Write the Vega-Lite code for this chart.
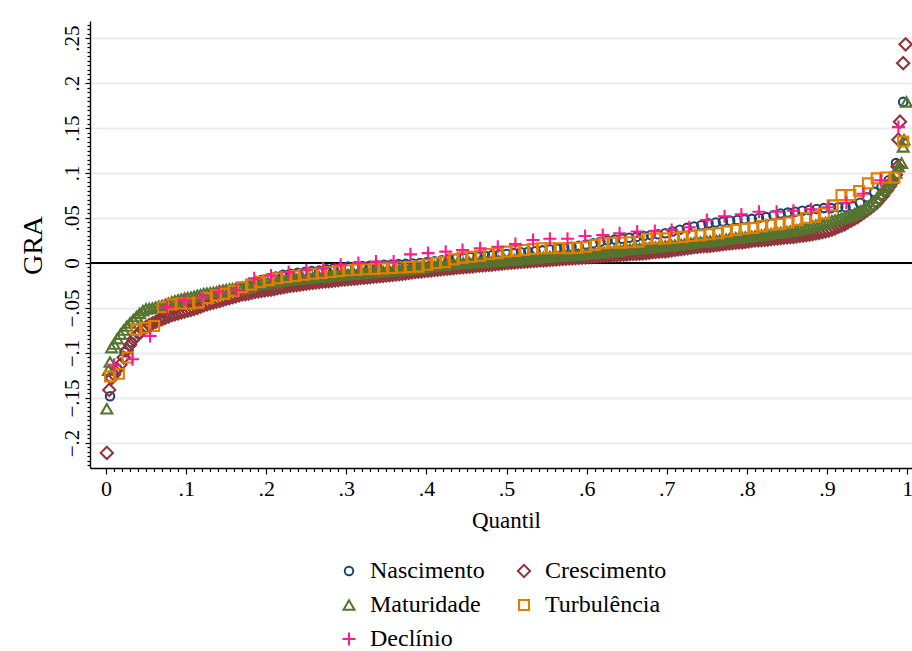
{
"$schema": "https://vega.github.io/schema/vega-lite/v6.json",
"width": 822, "height": 447,
"autosize": {"type": "none"},
"padding": {"left": 90, "top": 21, "right": 0, "bottom": 183},
"background": "white",
"config": {"view": {"stroke": null}, "font": "Liberation Serif"},
"data": {"values": [
{"s":"N","q":0.005,"v":-0.148},{"s":"N","q":0.014,"v":-0.118},{"s":"N","q":0.023,"v":-0.099},{"s":"N","q":0.032,"v":-0.088},{"s":"N","q":0.041,"v":-0.079},{"s":"N","q":0.050,"v":-0.072},{"s":"N","q":0.059,"v":-0.066},{"s":"N","q":0.068,"v":-0.061},{"s":"N","q":0.077,"v":-0.056},{"s":"N","q":0.086,"v":-0.052},{"s":"N","q":0.095,"v":-0.048},{"s":"N","q":0.104,"v":-0.045},{"s":"N","q":0.113,"v":-0.042},{"s":"N","q":0.122,"v":-0.039},{"s":"N","q":0.131,"v":-0.036},{"s":"N","q":0.140,"v":-0.034},{"s":"N","q":0.149,"v":-0.031},{"s":"N","q":0.158,"v":-0.029},{"s":"N","q":0.167,"v":-0.027},{"s":"N","q":0.176,"v":-0.025},{"s":"N","q":0.185,"v":-0.022},{"s":"N","q":0.194,"v":-0.019},{"s":"N","q":0.203,"v":-0.017},{"s":"N","q":0.212,"v":-0.015},{"s":"N","q":0.221,"v":-0.013},{"s":"N","q":0.230,"v":-0.012},{"s":"N","q":0.239,"v":-0.011},{"s":"N","q":0.248,"v":-0.010},{"s":"N","q":0.257,"v":-0.009},{"s":"N","q":0.266,"v":-0.0085},{"s":"N","q":0.275,"v":-0.007},{"s":"N","q":0.284,"v":-0.006},{"s":"N","q":0.293,"v":-0.005},{"s":"N","q":0.302,"v":-0.004},{"s":"N","q":0.311,"v":-0.0037},{"s":"N","q":0.320,"v":-0.0033},{"s":"N","q":0.329,"v":-0.003},{"s":"N","q":0.338,"v":-0.0025},{"s":"N","q":0.347,"v":-0.002},{"s":"N","q":0.356,"v":-0.0017},{"s":"N","q":0.365,"v":-0.0013},{"s":"N","q":0.374,"v":-0.001},{"s":"N","q":0.383,"v":-0.0005},{"s":"N","q":0.392,"v":0.000},{"s":"N","q":0.401,"v":0.001},{"s":"N","q":0.410,"v":0.002},{"s":"N","q":0.419,"v":0.003},{"s":"N","q":0.428,"v":0.0045},{"s":"N","q":0.437,"v":0.005},{"s":"N","q":0.446,"v":0.006},{"s":"N","q":0.455,"v":0.0067},{"s":"N","q":0.464,"v":0.0073},{"s":"N","q":0.473,"v":0.008},{"s":"N","q":0.482,"v":0.0087},{"s":"N","q":0.491,"v":0.0094},{"s":"N","q":0.500,"v":0.010},{"s":"N","q":0.509,"v":0.011},{"s":"N","q":0.518,"v":0.012},{"s":"N","q":0.527,"v":0.0125},{"s":"N","q":0.536,"v":0.013},{"s":"N","q":0.545,"v":0.014},{"s":"N","q":0.554,"v":0.015},{"s":"N","q":0.563,"v":0.016},{"s":"N","q":0.572,"v":0.017},{"s":"N","q":0.581,"v":0.018},{"s":"N","q":0.590,"v":0.019},{"s":"N","q":0.599,"v":0.0205},{"s":"N","q":0.608,"v":0.022},{"s":"N","q":0.617,"v":0.0235},{"s":"N","q":0.626,"v":0.025},{"s":"N","q":0.635,"v":0.026},{"s":"N","q":0.644,"v":0.027},{"s":"N","q":0.653,"v":0.028},{"s":"N","q":0.662,"v":0.029},{"s":"N","q":0.671,"v":0.030},{"s":"N","q":0.680,"v":0.031},{"s":"N","q":0.689,"v":0.032},{"s":"N","q":0.698,"v":0.033},{"s":"N","q":0.707,"v":0.035},{"s":"N","q":0.716,"v":0.037},{"s":"N","q":0.725,"v":0.039},{"s":"N","q":0.734,"v":0.0405},{"s":"N","q":0.743,"v":0.042},{"s":"N","q":0.752,"v":0.044},{"s":"N","q":0.761,"v":0.045},{"s":"N","q":0.770,"v":0.046},{"s":"N","q":0.779,"v":0.047},{"s":"N","q":0.788,"v":0.0477},{"s":"N","q":0.797,"v":0.0485},{"s":"N","q":0.806,"v":0.049},{"s":"N","q":0.815,"v":0.050},{"s":"N","q":0.824,"v":0.051},{"s":"N","q":0.833,"v":0.053},{"s":"N","q":0.842,"v":0.055},{"s":"N","q":0.851,"v":0.056},{"s":"N","q":0.860,"v":0.057},{"s":"N","q":0.869,"v":0.058},{"s":"N","q":0.878,"v":0.059},{"s":"N","q":0.887,"v":0.060},{"s":"N","q":0.896,"v":0.061},{"s":"N","q":0.905,"v":0.061},{"s":"N","q":0.914,"v":0.062},{"s":"N","q":0.923,"v":0.062},{"s":"N","q":0.932,"v":0.063},{"s":"N","q":0.941,"v":0.067},{"s":"N","q":0.950,"v":0.073},{"s":"N","q":0.959,"v":0.079},{"s":"N","q":0.968,"v":0.085},{"s":"N","q":0.977,"v":0.092},{"s":"N","q":0.986,"v":0.111},{"s":"N","q":0.995,"v":0.179},
{"s":"C","q":0.001,"v":-0.211},{"s":"C","q":0.004,"v":-0.141},{"s":"C","q":0.007,"v":-0.128},{"s":"C","q":0.010,"v":-0.124},{"s":"C","q":0.018,"v":-0.113},{"s":"C","q":0.026,"v":-0.097},{"s":"C","q":0.034,"v":-0.085},{"s":"C","q":0.042,"v":-0.077},{"s":"C","q":0.050,"v":-0.071},{"s":"C","q":0.058,"v":-0.067},{"s":"C","q":0.066,"v":-0.064},{"s":"C","q":0.074,"v":-0.061},{"s":"C","q":0.082,"v":-0.058},{"s":"C","q":0.090,"v":-0.056},{"s":"C","q":0.098,"v":-0.054},{"s":"C","q":0.106,"v":-0.052},{"s":"C","q":0.114,"v":-0.050},{"s":"C","q":0.122,"v":-0.047},{"s":"C","q":0.130,"v":-0.045},{"s":"C","q":0.138,"v":-0.043},{"s":"C","q":0.146,"v":-0.041},{"s":"C","q":0.154,"v":-0.039},{"s":"C","q":0.162,"v":-0.037},{"s":"C","q":0.170,"v":-0.035},{"s":"C","q":0.178,"v":-0.034},{"s":"C","q":0.186,"v":-0.032},{"s":"C","q":0.194,"v":-0.031},{"s":"C","q":0.202,"v":-0.030},{"s":"C","q":0.210,"v":-0.029},{"s":"C","q":0.218,"v":-0.0275},{"s":"C","q":0.226,"v":-0.026},{"s":"C","q":0.234,"v":-0.025},{"s":"C","q":0.242,"v":-0.024},{"s":"C","q":0.250,"v":-0.023},{"s":"C","q":0.258,"v":-0.022},{"s":"C","q":0.266,"v":-0.0212},{"s":"C","q":0.274,"v":-0.0205},{"s":"C","q":0.282,"v":-0.0198},{"s":"C","q":0.290,"v":-0.019},{"s":"C","q":0.298,"v":-0.0183},{"s":"C","q":0.306,"v":-0.0176},{"s":"C","q":0.314,"v":-0.017},{"s":"C","q":0.322,"v":-0.0163},{"s":"C","q":0.330,"v":-0.0157},{"s":"C","q":0.338,"v":-0.015},{"s":"C","q":0.346,"v":-0.0143},{"s":"C","q":0.354,"v":-0.0135},{"s":"C","q":0.362,"v":-0.0127},{"s":"C","q":0.370,"v":-0.012},{"s":"C","q":0.378,"v":-0.011},{"s":"C","q":0.386,"v":-0.010},{"s":"C","q":0.394,"v":-0.0092},{"s":"C","q":0.402,"v":-0.0085},{"s":"C","q":0.410,"v":-0.0078},{"s":"C","q":0.418,"v":-0.007},{"s":"C","q":0.426,"v":-0.0063},{"s":"C","q":0.434,"v":-0.0056},{"s":"C","q":0.442,"v":-0.005},{"s":"C","q":0.450,"v":-0.0043},{"s":"C","q":0.458,"v":-0.0037},{"s":"C","q":0.466,"v":-0.003},{"s":"C","q":0.474,"v":-0.0023},{"s":"C","q":0.482,"v":-0.0017},{"s":"C","q":0.490,"v":-0.001},{"s":"C","q":0.498,"v":-0.0003},{"s":"C","q":0.506,"v":0.0003},{"s":"C","q":0.514,"v":0.001},{"s":"C","q":0.522,"v":0.0015},{"s":"C","q":0.530,"v":0.002},{"s":"C","q":0.538,"v":0.0025},{"s":"C","q":0.546,"v":0.003},{"s":"C","q":0.554,"v":0.0035},{"s":"C","q":0.562,"v":0.004},{"s":"C","q":0.570,"v":0.0045},{"s":"C","q":0.578,"v":0.005},{"s":"C","q":0.586,"v":0.0055},{"s":"C","q":0.594,"v":0.006},{"s":"C","q":0.602,"v":0.0065},{"s":"C","q":0.610,"v":0.007},{"s":"C","q":0.618,"v":0.0075},{"s":"C","q":0.626,"v":0.008},{"s":"C","q":0.634,"v":0.0085},{"s":"C","q":0.642,"v":0.009},{"s":"C","q":0.650,"v":0.0095},{"s":"C","q":0.658,"v":0.010},{"s":"C","q":0.666,"v":0.0105},{"s":"C","q":0.674,"v":0.011},{"s":"C","q":0.682,"v":0.012},{"s":"C","q":0.690,"v":0.0125},{"s":"C","q":0.698,"v":0.013},{"s":"C","q":0.706,"v":0.014},{"s":"C","q":0.714,"v":0.015},{"s":"C","q":0.722,"v":0.016},{"s":"C","q":0.730,"v":0.017},{"s":"C","q":0.738,"v":0.018},{"s":"C","q":0.746,"v":0.0187},{"s":"C","q":0.754,"v":0.019},{"s":"C","q":0.762,"v":0.020},{"s":"C","q":0.770,"v":0.021},{"s":"C","q":0.778,"v":0.0217},{"s":"C","q":0.786,"v":0.0225},{"s":"C","q":0.794,"v":0.023},{"s":"C","q":0.802,"v":0.024},{"s":"C","q":0.810,"v":0.025},{"s":"C","q":0.818,"v":0.0255},{"s":"C","q":0.826,"v":0.026},{"s":"C","q":0.834,"v":0.027},{"s":"C","q":0.842,"v":0.0277},{"s":"C","q":0.850,"v":0.0285},{"s":"C","q":0.858,"v":0.029},{"s":"C","q":0.866,"v":0.030},{"s":"C","q":0.874,"v":0.031},{"s":"C","q":0.882,"v":0.032},{"s":"C","q":0.890,"v":0.0335},{"s":"C","q":0.898,"v":0.035},{"s":"C","q":0.906,"v":0.037},{"s":"C","q":0.914,"v":0.040},{"s":"C","q":0.922,"v":0.043},{"s":"C","q":0.930,"v":0.047},{"s":"C","q":0.938,"v":0.051},{"s":"C","q":0.946,"v":0.056},{"s":"C","q":0.954,"v":0.061},{"s":"C","q":0.962,"v":0.067},{"s":"C","q":0.970,"v":0.075},{"s":"C","q":0.978,"v":0.085},{"s":"C","q":0.982,"v":0.090},{"s":"C","q":0.986,"v":0.098},{"s":"C","q":0.988,"v":0.107},{"s":"C","q":0.989,"v":0.137},{"s":"C","q":0.991,"v":0.157},{"s":"C","q":0.995,"v":0.222},{"s":"C","q":0.998,"v":0.243},
{"s":"C","q":0.014,"v":-0.118},{"s":"C","q":0.022,"v":-0.105},{"s":"C","q":0.030,"v":-0.091},{"s":"C","q":0.038,"v":-0.081},{"s":"C","q":0.046,"v":-0.074},{"s":"C","q":0.054,"v":-0.069},{"s":"C","q":0.062,"v":-0.0655},{"s":"C","q":0.070,"v":-0.0625},{"s":"C","q":0.078,"v":-0.0595},{"s":"C","q":0.086,"v":-0.057},{"s":"C","q":0.094,"v":-0.055},{"s":"C","q":0.102,"v":-0.053},{"s":"C","q":0.110,"v":-0.051},{"s":"C","q":0.118,"v":-0.0485},{"s":"C","q":0.126,"v":-0.046},{"s":"C","q":0.134,"v":-0.044},{"s":"C","q":0.142,"v":-0.042},{"s":"C","q":0.150,"v":-0.040},{"s":"C","q":0.158,"v":-0.038},{"s":"C","q":0.166,"v":-0.036},{"s":"C","q":0.174,"v":-0.0345},{"s":"C","q":0.182,"v":-0.033},{"s":"C","q":0.190,"v":-0.0315},{"s":"C","q":0.198,"v":-0.0305},{"s":"C","q":0.206,"v":-0.0295},{"s":"C","q":0.214,"v":-0.028},{"s":"C","q":0.222,"v":-0.0268},{"s":"C","q":0.230,"v":-0.0255},{"s":"C","q":0.238,"v":-0.0245},{"s":"C","q":0.246,"v":-0.0235},{"s":"C","q":0.254,"v":-0.0225},{"s":"C","q":0.262,"v":-0.0216},{"s":"C","q":0.270,"v":-0.0208},{"s":"C","q":0.278,"v":-0.0202},{"s":"C","q":0.286,"v":-0.0194},{"s":"C","q":0.294,"v":-0.0186},{"s":"C","q":0.302,"v":-0.018},{"s":"C","q":0.310,"v":-0.0173},{"s":"C","q":0.318,"v":-0.0166},{"s":"C","q":0.326,"v":-0.016},{"s":"C","q":0.334,"v":-0.0153},{"s":"C","q":0.342,"v":-0.0146},{"s":"C","q":0.350,"v":-0.0139},{"s":"C","q":0.358,"v":-0.0131},{"s":"C","q":0.366,"v":-0.0123},{"s":"C","q":0.374,"v":-0.0115},{"s":"C","q":0.382,"v":-0.0105},{"s":"C","q":0.390,"v":-0.0096},{"s":"C","q":0.398,"v":-0.0088},{"s":"C","q":0.406,"v":-0.0082},{"s":"C","q":0.414,"v":-0.0074},{"s":"C","q":0.422,"v":-0.0066},{"s":"C","q":0.430,"v":-0.006},{"s":"C","q":0.438,"v":-0.0053},{"s":"C","q":0.446,"v":-0.0046},{"s":"C","q":0.454,"v":-0.004},{"s":"C","q":0.462,"v":-0.0033},{"s":"C","q":0.470,"v":-0.0027},{"s":"C","q":0.478,"v":-0.002},{"s":"C","q":0.486,"v":-0.0013},{"s":"C","q":0.494,"v":-0.0006},{"s":"C","q":0.502,"v":0.0000},{"s":"C","q":0.510,"v":0.0006},{"s":"C","q":0.518,"v":0.0012},{"s":"C","q":0.526,"v":0.0018},{"s":"C","q":0.534,"v":0.0022},{"s":"C","q":0.542,"v":0.0028},{"s":"C","q":0.550,"v":0.0032},{"s":"C","q":0.558,"v":0.0038},{"s":"C","q":0.566,"v":0.0042},{"s":"C","q":0.574,"v":0.0048},{"s":"C","q":0.582,"v":0.0052},{"s":"C","q":0.590,"v":0.0058},{"s":"C","q":0.598,"v":0.0062},{"s":"C","q":0.606,"v":0.0068},{"s":"C","q":0.614,"v":0.0072},{"s":"C","q":0.622,"v":0.0078},{"s":"C","q":0.630,"v":0.0082},{"s":"C","q":0.638,"v":0.0088},{"s":"C","q":0.646,"v":0.0092},{"s":"C","q":0.654,"v":0.0098},{"s":"C","q":0.662,"v":0.0102},{"s":"C","q":0.670,"v":0.0108},{"s":"C","q":0.678,"v":0.0115},{"s":"C","q":0.686,"v":0.0122},{"s":"C","q":0.694,"v":0.0128},{"s":"C","q":0.702,"v":0.0135},{"s":"C","q":0.710,"v":0.0145},{"s":"C","q":0.718,"v":0.0155},{"s":"C","q":0.726,"v":0.0165},{"s":"C","q":0.734,"v":0.0175},{"s":"C","q":0.742,"v":0.0184},{"s":"C","q":0.750,"v":0.0188},{"s":"C","q":0.758,"v":0.0195},{"s":"C","q":0.766,"v":0.0205},{"s":"C","q":0.774,"v":0.0214},{"s":"C","q":0.782,"v":0.0221},{"s":"C","q":0.790,"v":0.0228},{"s":"C","q":0.798,"v":0.0235},{"s":"C","q":0.806,"v":0.0245},{"s":"C","q":0.814,"v":0.0252},{"s":"C","q":0.822,"v":0.0258},{"s":"C","q":0.830,"v":0.0265},{"s":"C","q":0.838,"v":0.0274},{"s":"C","q":0.846,"v":0.0281},{"s":"C","q":0.854,"v":0.0288},{"s":"C","q":0.862,"v":0.0295},{"s":"C","q":0.870,"v":0.0305},{"s":"C","q":0.878,"v":0.0315},{"s":"C","q":0.886,"v":0.0328},{"s":"C","q":0.894,"v":0.0342},{"s":"C","q":0.902,"v":0.036},{"s":"C","q":0.910,"v":0.0385},{"s":"C","q":0.918,"v":0.0415},{"s":"C","q":0.926,"v":0.045},{"s":"C","q":0.934,"v":0.049},{"s":"C","q":0.942,"v":0.0535},{"s":"C","q":0.950,"v":0.0585},{"s":"C","q":0.958,"v":0.064},{"s":"C","q":0.966,"v":0.071},{"s":"C","q":0.974,"v":0.080},
{"s":"M","q":0.001,"v":-0.162},{"s":"M","q":0.003,"v":-0.119},{"s":"M","q":0.005,"v":-0.110},{"s":"M","q":0.007,"v":-0.094},{"s":"M","q":0.010,"v":-0.090},{"s":"M","q":0.018,"v":-0.079},{"s":"M","q":0.026,"v":-0.070},{"s":"M","q":0.034,"v":-0.063},{"s":"M","q":0.042,"v":-0.056},{"s":"M","q":0.050,"v":-0.051},{"s":"M","q":0.058,"v":-0.050},{"s":"M","q":0.066,"v":-0.048},{"s":"M","q":0.074,"v":-0.046},{"s":"M","q":0.082,"v":-0.043},{"s":"M","q":0.090,"v":-0.041},{"s":"M","q":0.098,"v":-0.039},{"s":"M","q":0.106,"v":-0.038},{"s":"M","q":0.114,"v":-0.036},{"s":"M","q":0.122,"v":-0.034},{"s":"M","q":0.130,"v":-0.033},{"s":"M","q":0.138,"v":-0.032},{"s":"M","q":0.146,"v":-0.030},{"s":"M","q":0.154,"v":-0.029},{"s":"M","q":0.162,"v":-0.028},{"s":"M","q":0.170,"v":-0.027},{"s":"M","q":0.178,"v":-0.026},{"s":"M","q":0.186,"v":-0.024},{"s":"M","q":0.194,"v":-0.023},{"s":"M","q":0.202,"v":-0.022},{"s":"M","q":0.210,"v":-0.021},{"s":"M","q":0.218,"v":-0.020},{"s":"M","q":0.226,"v":-0.019},{"s":"M","q":0.234,"v":-0.018},{"s":"M","q":0.242,"v":-0.0175},{"s":"M","q":0.250,"v":-0.017},{"s":"M","q":0.258,"v":-0.016},{"s":"M","q":0.266,"v":-0.0155},{"s":"M","q":0.274,"v":-0.015},{"s":"M","q":0.282,"v":-0.014},{"s":"M","q":0.290,"v":-0.0135},{"s":"M","q":0.298,"v":-0.013},{"s":"M","q":0.306,"v":-0.0125},{"s":"M","q":0.314,"v":-0.012},{"s":"M","q":0.322,"v":-0.0112},{"s":"M","q":0.330,"v":-0.0105},{"s":"M","q":0.338,"v":-0.010},{"s":"M","q":0.346,"v":-0.0095},{"s":"M","q":0.354,"v":-0.009},{"s":"M","q":0.362,"v":-0.0082},{"s":"M","q":0.370,"v":-0.0075},{"s":"M","q":0.378,"v":-0.0068},{"s":"M","q":0.386,"v":-0.006},{"s":"M","q":0.394,"v":-0.005},{"s":"M","q":0.402,"v":-0.004},{"s":"M","q":0.410,"v":-0.0033},{"s":"M","q":0.418,"v":-0.0025},{"s":"M","q":0.426,"v":-0.0018},{"s":"M","q":0.434,"v":-0.001},{"s":"M","q":0.442,"v":-0.0005},{"s":"M","q":0.450,"v":0.000},{"s":"M","q":0.458,"v":0.0005},{"s":"M","q":0.466,"v":0.001},{"s":"M","q":0.474,"v":0.0015},{"s":"M","q":0.482,"v":0.002},{"s":"M","q":0.490,"v":0.0025},{"s":"M","q":0.498,"v":0.003},{"s":"M","q":0.506,"v":0.0035},{"s":"M","q":0.514,"v":0.004},{"s":"M","q":0.522,"v":0.0047},{"s":"M","q":0.530,"v":0.0053},{"s":"M","q":0.538,"v":0.006},{"s":"M","q":0.546,"v":0.0065},{"s":"M","q":0.554,"v":0.007},{"s":"M","q":0.562,"v":0.0075},{"s":"M","q":0.570,"v":0.008},{"s":"M","q":0.578,"v":0.0085},{"s":"M","q":0.586,"v":0.009},{"s":"M","q":0.594,"v":0.0095},{"s":"M","q":0.602,"v":0.010},{"s":"M","q":0.610,"v":0.011},{"s":"M","q":0.618,"v":0.0115},{"s":"M","q":0.626,"v":0.012},{"s":"M","q":0.634,"v":0.013},{"s":"M","q":0.642,"v":0.014},{"s":"M","q":0.650,"v":0.015},{"s":"M","q":0.658,"v":0.0155},{"s":"M","q":0.666,"v":0.016},{"s":"M","q":0.674,"v":0.0167},{"s":"M","q":0.682,"v":0.0175},{"s":"M","q":0.690,"v":0.018},{"s":"M","q":0.698,"v":0.019},{"s":"M","q":0.706,"v":0.0195},{"s":"M","q":0.714,"v":0.020},{"s":"M","q":0.722,"v":0.021},{"s":"M","q":0.730,"v":0.022},{"s":"M","q":0.738,"v":0.023},{"s":"M","q":0.746,"v":0.0237},{"s":"M","q":0.754,"v":0.0245},{"s":"M","q":0.762,"v":0.025},{"s":"M","q":0.770,"v":0.026},{"s":"M","q":0.778,"v":0.027},{"s":"M","q":0.786,"v":0.028},{"s":"M","q":0.794,"v":0.0285},{"s":"M","q":0.802,"v":0.029},{"s":"M","q":0.810,"v":0.030},{"s":"M","q":0.818,"v":0.031},{"s":"M","q":0.826,"v":0.032},{"s":"M","q":0.834,"v":0.033},{"s":"M","q":0.842,"v":0.034},{"s":"M","q":0.850,"v":0.035},{"s":"M","q":0.858,"v":0.036},{"s":"M","q":0.866,"v":0.0375},{"s":"M","q":0.874,"v":0.039},{"s":"M","q":0.882,"v":0.041},{"s":"M","q":0.890,"v":0.043},{"s":"M","q":0.898,"v":0.045},{"s":"M","q":0.906,"v":0.047},{"s":"M","q":0.914,"v":0.049},{"s":"M","q":0.922,"v":0.051},{"s":"M","q":0.930,"v":0.053},{"s":"M","q":0.938,"v":0.056},{"s":"M","q":0.946,"v":0.060},{"s":"M","q":0.954,"v":0.065},{"s":"M","q":0.962,"v":0.072},{"s":"M","q":0.970,"v":0.081},{"s":"M","q":0.976,"v":0.087},{"s":"M","q":0.982,"v":0.095},{"s":"M","q":0.986,"v":0.100},{"s":"M","q":0.989,"v":0.107},{"s":"M","q":0.993,"v":0.111},{"s":"M","q":0.995,"v":0.129},{"s":"M","q":0.996,"v":0.137},{"s":"M","q":0.999,"v":0.179},
{"s":"M","q":0.014,"v":-0.084},{"s":"M","q":0.022,"v":-0.0745},{"s":"M","q":0.030,"v":-0.0665},{"s":"M","q":0.038,"v":-0.0595},{"s":"M","q":0.046,"v":-0.053},{"s":"M","q":0.054,"v":-0.0505},{"s":"M","q":0.062,"v":-0.049},{"s":"M","q":0.070,"v":-0.047},{"s":"M","q":0.078,"v":-0.0445},{"s":"M","q":0.086,"v":-0.042},{"s":"M","q":0.094,"v":-0.040},{"s":"M","q":0.102,"v":-0.0385},{"s":"M","q":0.110,"v":-0.037},{"s":"M","q":0.118,"v":-0.035},{"s":"M","q":0.126,"v":-0.0335},{"s":"M","q":0.134,"v":-0.0325},{"s":"M","q":0.142,"v":-0.031},{"s":"M","q":0.150,"v":-0.0295},{"s":"M","q":0.158,"v":-0.0285},{"s":"M","q":0.166,"v":-0.0275},{"s":"M","q":0.174,"v":-0.0265},{"s":"M","q":0.182,"v":-0.025},{"s":"M","q":0.190,"v":-0.0235},{"s":"M","q":0.198,"v":-0.0225},{"s":"M","q":0.206,"v":-0.0215},{"s":"M","q":0.214,"v":-0.0205},{"s":"M","q":0.222,"v":-0.0195},{"s":"M","q":0.230,"v":-0.0185},{"s":"M","q":0.238,"v":-0.0178},{"s":"M","q":0.246,"v":-0.0172},{"s":"M","q":0.254,"v":-0.0165},{"s":"M","q":0.262,"v":-0.0158},{"s":"M","q":0.270,"v":-0.0152},{"s":"M","q":0.278,"v":-0.0145},{"s":"M","q":0.286,"v":-0.0138},{"s":"M","q":0.294,"v":-0.0132},{"s":"M","q":0.302,"v":-0.0128},{"s":"M","q":0.310,"v":-0.0122},{"s":"M","q":0.318,"v":-0.0116},{"s":"M","q":0.326,"v":-0.0108},{"s":"M","q":0.334,"v":-0.0102},{"s":"M","q":0.342,"v":-0.0098},{"s":"M","q":0.350,"v":-0.0092},{"s":"M","q":0.358,"v":-0.0086},{"s":"M","q":0.366,"v":-0.0078},{"s":"M","q":0.374,"v":-0.0072},{"s":"M","q":0.382,"v":-0.0064},{"s":"M","q":0.390,"v":-0.0055},{"s":"M","q":0.398,"v":-0.0045},{"s":"M","q":0.406,"v":-0.0036},{"s":"M","q":0.414,"v":-0.0029},{"s":"M","q":0.422,"v":-0.0022},{"s":"M","q":0.430,"v":-0.0014},{"s":"M","q":0.438,"v":-0.0008},{"s":"M","q":0.446,"v":-0.0002},{"s":"M","q":0.454,"v":0.0002},{"s":"M","q":0.462,"v":0.0008},{"s":"M","q":0.470,"v":0.0012},{"s":"M","q":0.478,"v":0.0018},{"s":"M","q":0.486,"v":0.0022},{"s":"M","q":0.494,"v":0.0028},{"s":"M","q":0.502,"v":0.0032},{"s":"M","q":0.510,"v":0.0038},{"s":"M","q":0.518,"v":0.0044},{"s":"M","q":0.526,"v":0.005},{"s":"M","q":0.534,"v":0.0056},{"s":"M","q":0.542,"v":0.0062},{"s":"M","q":0.550,"v":0.0068},{"s":"M","q":0.558,"v":0.0072},{"s":"M","q":0.566,"v":0.0078},{"s":"M","q":0.574,"v":0.0082},{"s":"M","q":0.582,"v":0.0088},{"s":"M","q":0.590,"v":0.0092},{"s":"M","q":0.598,"v":0.0098},{"s":"M","q":0.606,"v":0.0105},{"s":"M","q":0.614,"v":0.0112},{"s":"M","q":0.622,"v":0.0118},{"s":"M","q":0.630,"v":0.0125},{"s":"M","q":0.638,"v":0.0135},{"s":"M","q":0.646,"v":0.0145},{"s":"M","q":0.654,"v":0.0152},{"s":"M","q":0.662,"v":0.0158},{"s":"M","q":0.670,"v":0.0163},{"s":"M","q":0.678,"v":0.017},{"s":"M","q":0.686,"v":0.0178},{"s":"M","q":0.694,"v":0.0185},{"s":"M","q":0.702,"v":0.0192},{"s":"M","q":0.710,"v":0.0198},{"s":"M","q":0.718,"v":0.0205},{"s":"M","q":0.726,"v":0.0215},{"s":"M","q":0.734,"v":0.0225},{"s":"M","q":0.742,"v":0.0233},{"s":"M","q":0.750,"v":0.024},{"s":"M","q":0.758,"v":0.0248},{"s":"M","q":0.766,"v":0.0255},{"s":"M","q":0.774,"v":0.0265},{"s":"M","q":0.782,"v":0.0275},{"s":"M","q":0.790,"v":0.0282},{"s":"M","q":0.798,"v":0.0288},{"s":"M","q":0.806,"v":0.0295},{"s":"M","q":0.814,"v":0.0305},{"s":"M","q":0.822,"v":0.0315},{"s":"M","q":0.830,"v":0.0325},{"s":"M","q":0.838,"v":0.0335},{"s":"M","q":0.846,"v":0.0345},{"s":"M","q":0.854,"v":0.0355},{"s":"M","q":0.862,"v":0.0368},{"s":"M","q":0.870,"v":0.0382},{"s":"M","q":0.878,"v":0.040},{"s":"M","q":0.886,"v":0.042},{"s":"M","q":0.894,"v":0.044},{"s":"M","q":0.902,"v":0.046},{"s":"M","q":0.910,"v":0.048},{"s":"M","q":0.918,"v":0.050},{"s":"M","q":0.926,"v":0.052},{"s":"M","q":0.934,"v":0.0545},{"s":"M","q":0.942,"v":0.058},{"s":"M","q":0.950,"v":0.0625},{"s":"M","q":0.958,"v":0.0685},{"s":"M","q":0.966,"v":0.0765},{"s":"M","q":0.973,"v":0.084},{"s":"M","q":0.979,"v":0.091},
{"s":"T","q":0.005,"v":-0.126},{"s":"T","q":0.016,"v":-0.123},{"s":"T","q":0.027,"v":-0.105},{"s":"T","q":0.038,"v":-0.074},{"s":"T","q":0.049,"v":-0.072},{"s":"T","q":0.060,"v":-0.070},{"s":"T","q":0.071,"v":-0.049},{"s":"T","q":0.082,"v":-0.046},{"s":"T","q":0.093,"v":-0.045},{"s":"T","q":0.104,"v":-0.045},{"s":"T","q":0.115,"v":-0.044},{"s":"T","q":0.126,"v":-0.039},{"s":"T","q":0.137,"v":-0.036},{"s":"T","q":0.148,"v":-0.034},{"s":"T","q":0.159,"v":-0.031},{"s":"T","q":0.170,"v":-0.027},{"s":"T","q":0.181,"v":-0.024},{"s":"T","q":0.192,"v":-0.021},{"s":"T","q":0.203,"v":-0.019},{"s":"T","q":0.214,"v":-0.017},{"s":"T","q":0.225,"v":-0.0155},{"s":"T","q":0.236,"v":-0.0145},{"s":"T","q":0.247,"v":-0.013},{"s":"T","q":0.258,"v":-0.012},{"s":"T","q":0.269,"v":-0.011},{"s":"T","q":0.280,"v":-0.010},{"s":"T","q":0.291,"v":-0.009},{"s":"T","q":0.302,"v":-0.008},{"s":"T","q":0.313,"v":-0.0075},{"s":"T","q":0.324,"v":-0.007},{"s":"T","q":0.335,"v":-0.0065},{"s":"T","q":0.346,"v":-0.006},{"s":"T","q":0.357,"v":-0.0055},{"s":"T","q":0.368,"v":-0.005},{"s":"T","q":0.379,"v":-0.0045},{"s":"T","q":0.390,"v":-0.004},{"s":"T","q":0.401,"v":-0.002},{"s":"T","q":0.412,"v":0.000},{"s":"T","q":0.423,"v":0.001},{"s":"T","q":0.434,"v":0.004},{"s":"T","q":0.445,"v":0.006},{"s":"T","q":0.456,"v":0.007},{"s":"T","q":0.467,"v":0.008},{"s":"T","q":0.478,"v":0.010},{"s":"T","q":0.489,"v":0.011},{"s":"T","q":0.500,"v":0.0126},{"s":"T","q":0.511,"v":0.0135},{"s":"T","q":0.522,"v":0.0145},{"s":"T","q":0.533,"v":0.0155},{"s":"T","q":0.544,"v":0.0163},{"s":"T","q":0.555,"v":0.0163},{"s":"T","q":0.566,"v":0.0163},{"s":"T","q":0.577,"v":0.0163},{"s":"T","q":0.588,"v":0.017},{"s":"T","q":0.599,"v":0.018},{"s":"T","q":0.610,"v":0.020},{"s":"T","q":0.621,"v":0.022},{"s":"T","q":0.632,"v":0.0225},{"s":"T","q":0.643,"v":0.0226},{"s":"T","q":0.654,"v":0.023},{"s":"T","q":0.665,"v":0.0237},{"s":"T","q":0.676,"v":0.027},{"s":"T","q":0.687,"v":0.0274},{"s":"T","q":0.698,"v":0.0274},{"s":"T","q":0.709,"v":0.028},{"s":"T","q":0.720,"v":0.029},{"s":"T","q":0.731,"v":0.030},{"s":"T","q":0.742,"v":0.031},{"s":"T","q":0.753,"v":0.032},{"s":"T","q":0.764,"v":0.033},{"s":"T","q":0.775,"v":0.035},{"s":"T","q":0.786,"v":0.0367},{"s":"T","q":0.797,"v":0.038},{"s":"T","q":0.808,"v":0.039},{"s":"T","q":0.819,"v":0.041},{"s":"T","q":0.830,"v":0.0425},{"s":"T","q":0.841,"v":0.0435},{"s":"T","q":0.852,"v":0.045},{"s":"T","q":0.863,"v":0.0475},{"s":"T","q":0.874,"v":0.050},{"s":"T","q":0.885,"v":0.0515},{"s":"T","q":0.896,"v":0.055},{"s":"T","q":0.907,"v":0.064},{"s":"T","q":0.918,"v":0.0755},{"s":"T","q":0.929,"v":0.0755},{"s":"T","q":0.940,"v":0.080},{"s":"T","q":0.951,"v":0.0885},{"s":"T","q":0.962,"v":0.094},{"s":"T","q":0.973,"v":0.095},{"s":"T","q":0.984,"v":0.095},{"s":"T","q":0.995,"v":0.135},
{"s":"D","q":0.010,"v":-0.113},{"s":"D","q":0.033,"v":-0.107},{"s":"D","q":0.055,"v":-0.081},{"s":"D","q":0.076,"v":-0.049},{"s":"D","q":0.098,"v":-0.041},{"s":"D","q":0.120,"v":-0.038},{"s":"D","q":0.141,"v":-0.032},{"s":"D","q":0.163,"v":-0.030},{"s":"D","q":0.185,"v":-0.017},{"s":"D","q":0.206,"v":-0.014},{"s":"D","q":0.228,"v":-0.010},{"s":"D","q":0.250,"v":-0.008},{"s":"D","q":0.271,"v":-0.006},{"s":"D","q":0.293,"v":-0.002},{"s":"D","q":0.315,"v":0.000},{"s":"D","q":0.337,"v":0.0015},{"s":"D","q":0.359,"v":0.0015},{"s":"D","q":0.380,"v":0.0096},{"s":"D","q":0.402,"v":0.011},{"s":"D","q":0.424,"v":0.0126},{"s":"D","q":0.445,"v":0.0144},{"s":"D","q":0.467,"v":0.0163},{"s":"D","q":0.489,"v":0.018},{"s":"D","q":0.511,"v":0.021},{"s":"D","q":0.533,"v":0.0256},{"s":"D","q":0.554,"v":0.027},{"s":"D","q":0.576,"v":0.027},{"s":"D","q":0.598,"v":0.030},{"s":"D","q":0.620,"v":0.031},{"s":"D","q":0.641,"v":0.033},{"s":"D","q":0.663,"v":0.035},{"s":"D","q":0.685,"v":0.0356},{"s":"D","q":0.706,"v":0.0367},{"s":"D","q":0.728,"v":0.0396},{"s":"D","q":0.750,"v":0.0478},{"s":"D","q":0.772,"v":0.052},{"s":"D","q":0.793,"v":0.054},{"s":"D","q":0.815,"v":0.057},{"s":"D","q":0.837,"v":0.057},{"s":"D","q":0.858,"v":0.058},{"s":"D","q":0.880,"v":0.0596},{"s":"D","q":0.902,"v":0.062},{"s":"D","q":0.924,"v":0.067},{"s":"D","q":0.945,"v":0.077},{"s":"D","q":0.967,"v":0.092},{"s":"D","q":0.989,"v":0.151}
]},
"layer": [
{"mark": {"type": "rule", "color": "black", "strokeWidth": 1.4}, "encoding": {"y": {"datum": 0, "type": "quantitative"}}},
{"mark": {"type": "point", "filled": false, "opacity": 1, "strokeWidth": 2.1},
 "encoding": {
  "x": {"field": "q", "type": "quantitative",
    "scale": {"domain": [-0.02, 1.006], "nice": false, "zero": false},
    "axis": {"title": "Quantil", "titleFont": "Liberation Serif", "titleFontSize": 23, "titleFontWeight": "normal", "titleColor": "black", "titleX": 416, "titleAlign": "center", "titlePadding": 10,
      "tickCount": 100,
      "labelExpr": "abs(datum.value*10-round(datum.value*10))<0.01 && datum.value > -0.001 ? replace(format(round(datum.value*10)/10,'.1~f'),'0.','.') : ''",
      "labelFont": "Liberation Serif", "labelFontSize": 22, "labelColor": "black", "labelPadding": 4, "labelOverlap": false, "labelFlush": false, "labelAngle": 0,
      "tickColor": "black", "tickWidth": 1.2,
      "tickSize": {"condition": {"test": "abs(datum.value*10-round(datum.value*10))<0.01", "value": 6}, "value": 3.5},
      "tickOpacity": {"condition": {"test": "datum.value < -0.001", "value": 0}, "value": 1},
      "domainColor": "black", "domainWidth": 1.4, "grid": false}},
  "y": {"field": "v", "type": "quantitative",
    "scale": {"domain": [-0.2278, 0.2689], "nice": false, "zero": false},
    "axis": {"title": "GRA", "titleFont": "Liberation Serif", "titleFontSize": 28, "titleFontWeight": "normal", "titleColor": "black",
      "titleAngle": -90, "titleX": -57, "titleY": 224, "titleAlign": "center", "titleBaseline": "middle",
      "tickCount": 100,
      "labelExpr": "abs(datum.value*20-round(datum.value*20))<0.01 ? replace(format(round(datum.value*20)/20,'.2~f'),'0.','.') : ''",
      "labelAngle": -90, "labelAlign": "center", "labelBaseline": "alphabetic", "labelFont": "Liberation Serif", "labelFontSize": 21, "labelColor": "black", "labelPadding": 7, "labelOverlap": false,
      "tickColor": "black", "tickWidth": 1.2,
      "tickSize": {"condition": {"test": "abs(datum.value*20-round(datum.value*20))<0.01", "value": 5}, "value": 3},
      "domainColor": "black", "domainWidth": 1.4,
      "grid": true, "gridWidth": 2,
      "gridColor": {"condition": {"test": "abs(datum.value*20-round(datum.value*20))<0.01", "value": "#e6eef2"}, "value": "transparent"}}},
  "color": {"field": "s", "type": "nominal",
    "scale": {"domain": ["N", "M", "D", "C", "T"], "range": ["#1a476f", "#55752f", "#ff1a8c", "#90353b", "#e37e00"]},
    "legend": {"orient": "none", "legendX": 247, "legendY": 538, "columns": 2, "title": null,
      "labelExpr": "{'N':'Nascimento','C':'Crescimento','M':'Maturidade','T':'Turbulência','D':'Declínio'}[datum.label]",
      "labelFont": "Liberation Serif", "labelFontSize": 24, "labelColor": "black", "labelOffset": 9,
      "symbolStrokeWidth": 2, "rowPadding": 10, "columnPadding": 27}},
  "shape": {"field": "s", "type": "nominal",
    "scale": {"domain": ["N", "M", "D", "C", "T"], "range": ["circle", "triangle-up", "M-1,0H1M0,-1V1", "diamond", "square"]}},
  "size": {"field": "s", "type": "nominal",
    "scale": {"type": "ordinal", "domain": ["N", "M", "D", "C", "T"], "range": [72, 120, 170, 150, 100]}}
 }}
]
}
